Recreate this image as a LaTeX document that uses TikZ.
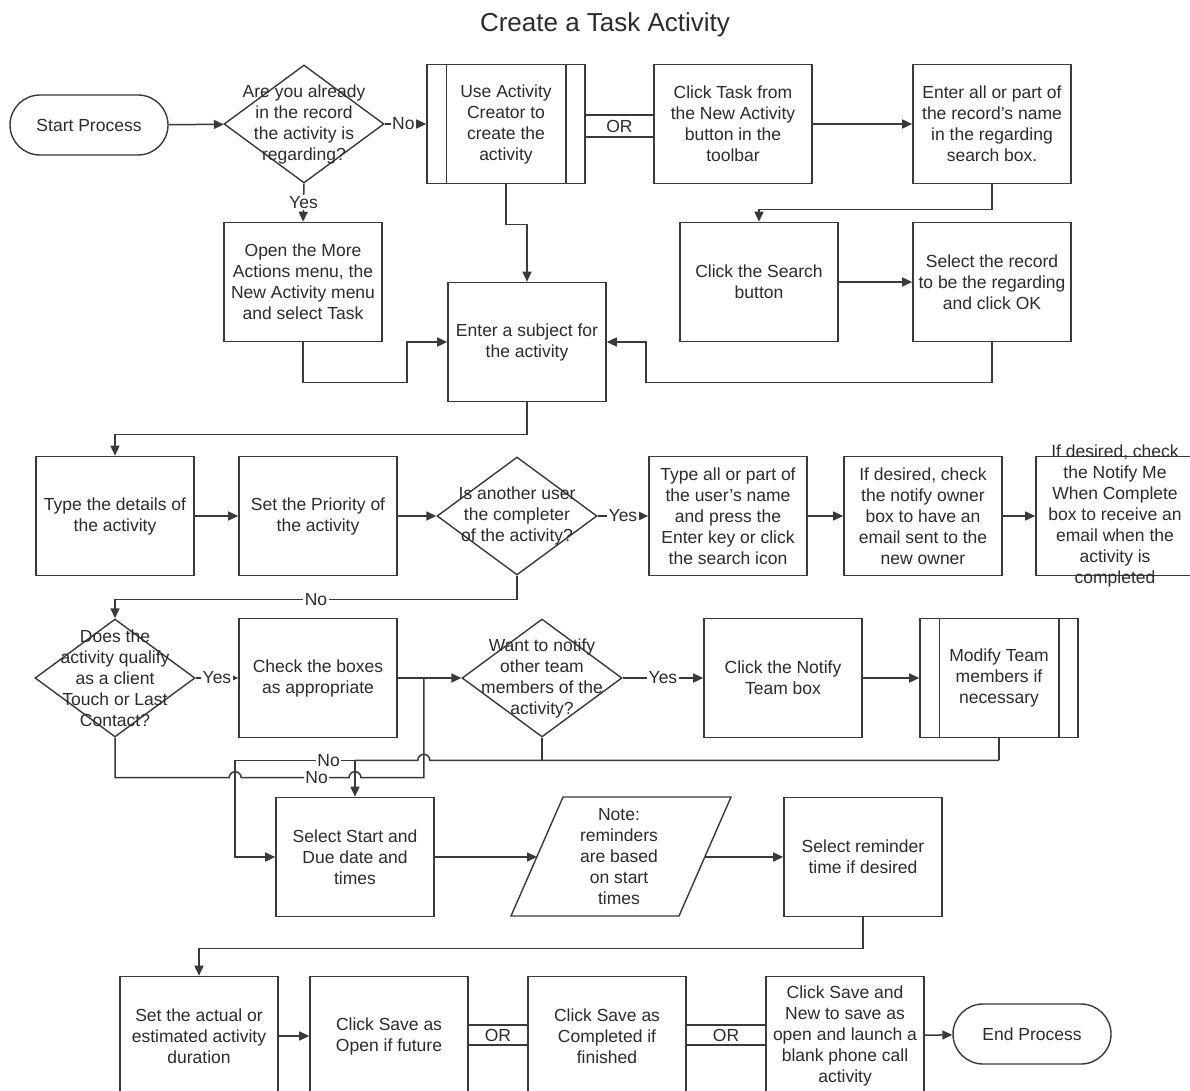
\documentclass[tikz,border=0pt]{standalone}
\usepackage{fontspec}
\setmainfont{Liberation Sans}
\usetikzlibrary{shapes.geometric,arrows.meta,calc}
\definecolor{ln}{HTML}{3A3A3A}
\definecolor{txt}{HTML}{2C2C2C}
\begin{document}
\begin{tikzpicture}[x=1pt,y=-1pt,
  base/.style={font=\fontsize{17.5}{21}\selectfont, text=txt, align=center, inner sep=0pt},
  proc/.style={base, draw=ln, line width=1.6pt, minimum width=158pt, minimum height=119pt},
  term/.style={base, draw=ln, line width=1.4pt, rounded corners=30pt, minimum width=158pt, minimum height=60pt},
  dec/.style={draw=ln, line width=1.4pt, diamond, minimum width=160pt, minimum height=118pt, inner sep=0pt},
  conn/.style={draw=ln, line width=1.5pt},
  arr/.style={conn, -{Triangle[length=10pt,width=9pt]}},
  lbl/.style={base, fill=white, inner sep=1.5pt},
  orlbl/.style={base}
]
\path[use as bounding box, fill=white] (0,0) rectangle (1190,1091);
\clip (0,0) rectangle (1190,1091);

% title
\node[font=\fontsize{26}{30}\selectfont, text=txt] (title) at (605,25) {Create a Task Activity};

% row 1
\node[term] (start) at (89,125) {Start Process};
\node[dec] (d1) at (304,124) {};
\node[base] (d1t) at (d1) {Are you already\\in the record\\the activity is\\regarding?};
\node[proc] (creator) at (506,124) {Use Activity\\Creator to\\create the\\activity};
\node[proc] (clicktask) at (733,124) {Click Task from\\the New Activity\\button in the\\toolbar};
\node[proc] (enterall) at (992,124) {Enter all or part of\\the record's name\\in the regarding\\search box.};

% row 2
\node[proc] (openmore) at (303,282) {Open the More\\Actions menu, the\\New Activity menu\\and select Task};
\node[proc] (subject) at (527,342) {Enter a subject for\\the activity};
\node[proc] (search) at (759,282) {Click the Search\\button};
\node[proc] (selrec) at (992,282) {Select the record\\to be the regarding\\and click OK};

% row 3
\node[proc] (details) at (115,516) {Type the details of\\the activity};
\node[proc] (priority) at (318,516) {Set the Priority of\\the activity};
\node[dec] (d2) at (517,516) {};
\node[base] (d2t) at (d2) {Is another user\\the completer\\of the activity?};
\node[proc] (typeall) at (728,516) {Type all or part of\\the user's name\\and press the\\Enter key or click\\the search icon};
\node[proc] (owner) at (923,516) {If desired, check\\the notify owner\\box to have an\\email sent to the\\new owner};
\node[proc] (notifyme) at (1115,516) {};
\node[base] (notifymet) at (notifyme) {If desired, check\\the Notify Me\\When Complete\\box to receive an\\email when the\\activity is\\completed};

% row 4
\node[dec] (d3) at (115,678) {};
\node[base] (d3t) at (d3) {Does the\\activity qualify\\as a client\\Touch or Last\\Contact?};
\node[proc] (boxes) at (318,678) {Check the boxes\\as appropriate};
\node[dec] (d4) at (542,678) {};
\node[base] (d4t) at (d4) {Want to notify\\other team\\members of the\\activity?};
\node[proc] (notifyteam) at (783,678) {Click the Notify\\Team box};
\node[proc] (modify) at (999,678) {Modify Team\\members if\\necessary};

% row 5
\node[proc] (startdue) at (355,857) {Select Start and\\Due date and\\times};
\draw[ln, line width=1.4pt] (563,797) -- (731,797) -- (679,916) -- (511,916) -- cycle;
\node[base] (note) at (619,857) {Note:\\reminders\\are based\\on start\\times};
\coordinate (notein) at (537,857);
\coordinate (noteout) at (705,857);
\node[proc] (reminder) at (863,857) {Select reminder\\time if desired};

% row 6
\node[proc] (actual) at (199,1036) {Set the actual or\\estimated activity\\duration};
\node[proc] (saveopen) at (389,1036) {Click Save as\\Open if future};
\node[proc] (savecomp) at (607,1036) {Click Save as\\Completed if\\finished};
\node[proc] (savenew) at (845,1036) {Click Save and\\New to save as\\open and launch a\\blank phone call\\activity};
\node[term] (endp) at (1032,1034) {End Process};

% side bars of the predefined-process boxes
\foreach \n in {creator,modify}{
  \draw[ln, line width=1.4pt] ([xshift=20pt]\n.north west) -- ([xshift=20pt]\n.south west);
  \draw[ln, line width=1.4pt] ([xshift=-20pt]\n.north east) -- ([xshift=-20pt]\n.south east);
}

% connectors, row 1 and 2
\draw[arr] (start) -- (d1);
\draw[arr] (d1.east) -- node[lbl, pos=0.45] {No} (creator.west);
\draw[conn] ([yshift=9pt]creator.east) -- ([yshift=9pt]clicktask.west);
\draw[conn] ([yshift=-13pt]creator.east) -- ([yshift=-13pt]clicktask.west);
\node[orlbl] (or1) at ($(creator.east)!0.5!(clicktask.west)+(0,2)$) {OR};
\draw[arr] (clicktask) -- (enterall);
\draw[arr] (enterall.south) -- ++(0,25) -| (search.north);
\draw[arr] (d1.south) -- node[lbl, pos=0.5] {Yes} (openmore.north);
\draw[arr] (creator.south) -- ++(0,40) -| (subject.north);
\draw[arr] (openmore.south) -- ++(0,40) -| ($(subject.west)+(-40,0)$) -- (subject.west);
\draw[arr] (search) -- (selrec);
\draw[arr] (selrec.south) -- ++(0,40) -| ($(subject.east)+(39,0)$) -- (subject.east);
\draw[arr] (subject.south) -- ++(0,32) -| (details.north);

% row 3
\draw[arr] (details) -- (priority);
\draw[arr] (priority.east) -- (d2.west);
\draw[arr] (d2.east) -- node[lbl, pos=0.5] {Yes} (typeall.west);
\draw[arr] (typeall) -- (owner);
\draw[arr] (owner) -- (notifyme);
\draw[arr] (d2.south) -- ++(0,24) -| node[lbl, pos=0.25] {No} (d3.north);

% row 4
\draw[arr] (d3.east) -- node[lbl, pos=0.5] {Yes} (boxes.west);
\draw[arr] (boxes.east) -- (d4.west);
\draw[arr] (d4.east) -- node[lbl, pos=0.5] {Yes} (notifyteam.west);
\draw[arr] (notifyteam) -- (modify);

% the two "No" branches and the team branch meeting at Select Start
\coordinate (j1) at ($(boxes.east)+(26,0)$);
\coordinate (va) at ($(startdue.west)+(-40,0)$);
\path (d3.south) ++(0,40) coordinate (c1);
\path (modify.south) ++(0,22) coordinate (c2);
\draw[conn] (d3.south) -- (c1)
  -- ($(va |- c1)+(-6,0)$) arc[start angle=180, end angle=0, radius=6pt]
  -- node[lbl, pos=0.7] {No} ($(startdue.north |- c1)+(-6,0)$) arc[start angle=180, end angle=0, radius=6pt]
  -- (j1 |- c1) -- (j1);
\draw[conn] (c2) -- ($(j1 |- c2)+(6,0)$) arc[start angle=0, end angle=180, radius=6pt]
  -- (startdue.north |- c2);
\draw[conn] (d4.south) -- (d4.south |- c2);
\draw[arr] (startdue.north |- c2) -- (startdue.north);
\draw[conn] (modify.south) -- (c2);
\draw[arr] (startdue.north |- c2) -- node[lbl, pos=0.22] {No} (va |- c2) -- (va) -- (startdue.west);

% row 5
\draw[arr] (startdue.east) -- (notein);
\draw[arr] (noteout) -- (reminder.west);
\draw[arr] (reminder.south) -- ++(0,31) -| (actual.north);

% row 6
\draw[arr] (actual) -- (saveopen);
\draw[conn] ([yshift=11pt]saveopen.east) -- ([yshift=11pt]savecomp.west);
\draw[conn] ([yshift=-9pt]saveopen.east) -- ([yshift=-9pt]savecomp.west);
\node[orlbl] (or2) at ($(saveopen.east)!0.5!(savecomp.west)+(0,-1)$) {OR};
\draw[conn] ([yshift=11pt]savecomp.east) -- ([yshift=11pt]savenew.west);
\draw[conn] ([yshift=-9pt]savecomp.east) -- ([yshift=-9pt]savenew.west);
\node[orlbl] (or3) at ($(savecomp.east)!0.5!(savenew.west)+(0,-1)$) {OR};
\draw[arr] (savenew) -- (endp);
\end{tikzpicture}
\end{document}
